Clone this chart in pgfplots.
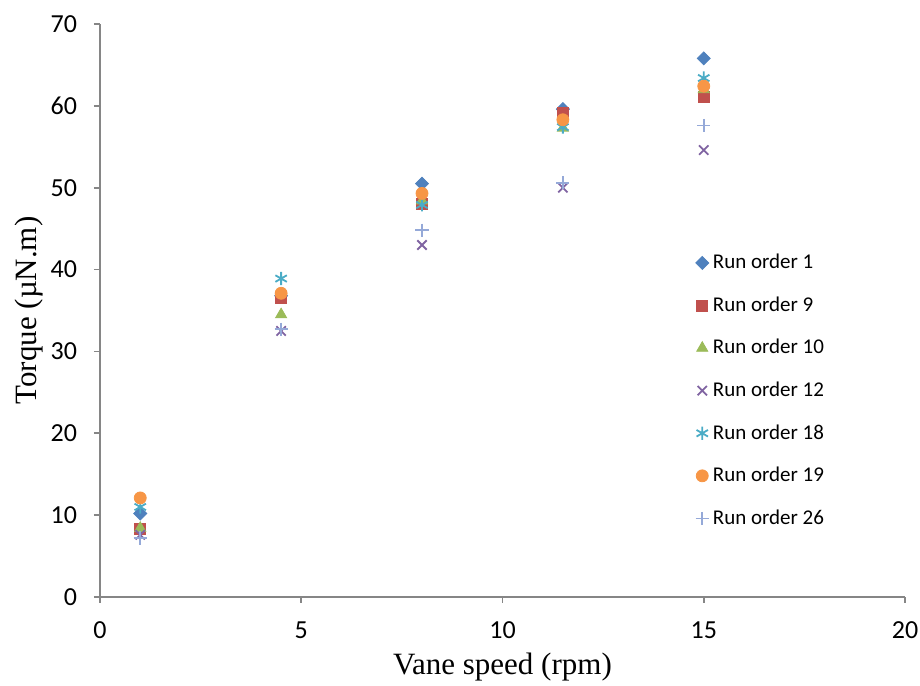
\documentclass[border=0pt]{standalone}
\usepackage{pgfplots}
\pgfplotsset{compat=1.18}
\usepackage{fontspec}
\setmainfont{Carlito}
\newfontfamily\timesfont{Liberation Serif}
\definecolor{cA}{HTML}{4F81BD}
\definecolor{cB}{HTML}{C0504D}
\definecolor{cC}{HTML}{9BBB59}
\definecolor{cD}{HTML}{8064A2}
\definecolor{cE}{HTML}{4BACC6}
\definecolor{cF}{HTML}{F79646}
\definecolor{cG}{HTML}{95A9D8}
\definecolor{axgray}{HTML}{868686}
\begin{document}
\begin{tikzpicture}
\begin{axis}[
    scale only axis,
    width=402.5pt, height=286.5pt,
    xmin=0, xmax=20, ymin=0, ymax=70,
    xtick={0,5,10,15,20},
    ytick={0,10,20,30,40,50,60,70},
    axis lines=left,
    axis line style={-, axgray, line width=0.8pt},
    tick style={axgray, line width=0.8pt},
    tick align=outside,
    major tick length=3pt,
    /pgf/number format/assume math mode=true,
    tick label style={font=\fontsize{13}{15}\selectfont},
    xticklabel style={yshift=-6pt},
    yticklabel style={xshift=-5pt},
    xlabel={\timesfont Vane speed (rpm)},
    ylabel={\timesfont Torque (µN.m)},
    label style={font=\fontsize{15.5}{18}\selectfont},
    xlabel style={yshift=0pt},
    ylabel style={yshift=-3pt},
    legend style={at={(0.732,0.613)}, anchor=north west, draw=none, fill=none,
        font=\fontsize{10.5}{12}\selectfont, row sep=8.5pt,
        legend cell align=left},
    legend image code/.code={\draw[#1] plot coordinates {(0.25cm,0cm)};},
    only marks,
    clip=false,
]
\addplot[mark=square*, mark size=2.3pt, color=cA, mark options={rotate=45}] coordinates {(1,10.2) (4.5,36.8) (8,50.5) (11.5,59.6) (15,65.8)};
\addplot[mark=square*, mark size=2.8pt, color=cB] coordinates {(1,8.3) (4.5,36.6) (8,48.0) (11.5,59.1) (15,61.1)};
\addplot[mark=triangle*, mark size=3.2pt, color=cC] coordinates {(1,8.4) (4.5,34.5) (8,48.4) (11.5,57.3) (15,62.0)};
\addplot[mark=x, mark size=3.3pt, color=cD, mark options={line width=0.9pt}] coordinates {(1,7.6) (4.5,32.5) (8,43.0) (11.5,50.0) (15,54.6)};
\addplot[mark=asterisk, mark size=3.3pt, color=cE, mark options={line width=0.9pt}] coordinates {(1,11.0) (4.5,38.9) (8,47.9) (11.5,57.4) (15,63.4)};
\addplot[mark=*, mark size=3pt, color=cF] coordinates {(1,12.1) (4.5,37.1) (8,49.3) (11.5,58.3) (15,62.4)};
\addplot[mark=+, mark size=3.3pt, color=cG, mark options={line width=0.9pt}] coordinates {(1,7.2) (4.5,32.7) (8,44.8) (11.5,50.6) (15,57.6)};
\legend{Run order 1, Run order 9, Run order 10, Run order 12, Run order 18, Run order 19, Run order 26}
\end{axis}
\pgfresetboundingbox
\path ([shift={(-50pt,-44.5pt)}]current axis.south west) rectangle ([shift={(7.5pt,12pt)}]current axis.north east);
\end{tikzpicture}
\end{document}
